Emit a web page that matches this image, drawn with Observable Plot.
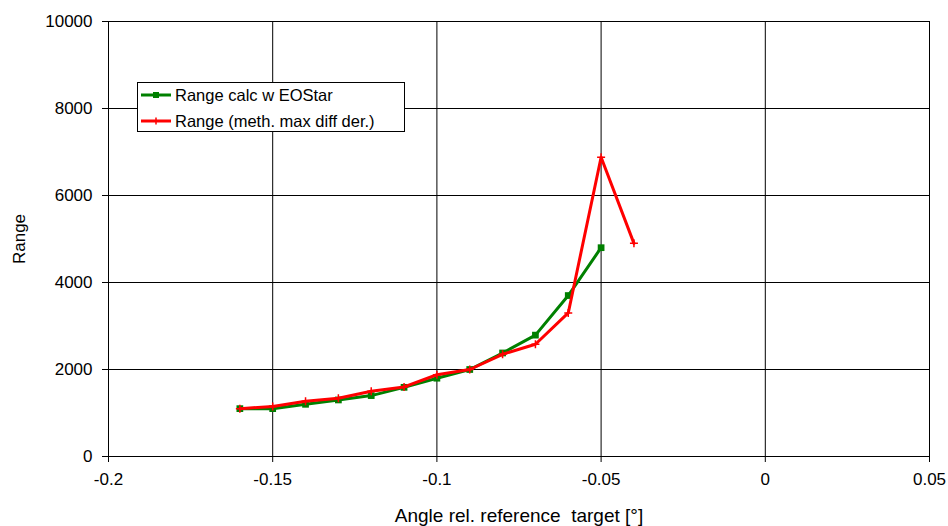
<!DOCTYPE html>
<html>
<head>
<meta charset="utf-8">
<script src="https://cdn.jsdelivr.net/npm/d3@7"></script>
<script src="https://cdn.jsdelivr.net/npm/@observablehq/plot@0.6"></script>
<style>
  html, body { margin: 0; padding: 0; background: #fff; }
  #wrap { position: relative; width: 948px; height: 526px; font-family: "Liberation Sans", Arial, sans-serif; }
  #legend { position: absolute; left: 137px; top: 82px; width: 268px; height: 50px; border: 1px solid #000; background: #fff; box-sizing: border-box; }
  .lrow { position: absolute; left: 3px; height: 20px; display: flex; align-items: center; font-size: 16.5px; color: #000; white-space: nowrap; }
  .lrow svg { margin-right: 4px; }
</style>
</head>
<body>
<div id="wrap"></div>
<script>
// Data
const angles = [-0.16, -0.15, -0.14, -0.13, -0.12, -0.11, -0.10, -0.09, -0.08, -0.07, -0.06, -0.05, -0.04];
const eostarRange = [1100, 1100, 1200, 1300, 1400, 1590, 1800, 2000, 2380, 2790, 3700, 4800, null];
const maxDiffRange = [1100, 1150, 1270, 1340, 1500, 1600, 1880, 2000, 2350, 2580, 3300, 6880, 4900];
const seriesNames = ["Range calc w EOStar", "Range (meth. max diff der.)"];
const seriesColors = ["#008000", "#ff0000"];
const xTicks = [-0.2, -0.15, -0.1, -0.05, 0, 0.05];
const yTicks = [0, 2000, 4000, 6000, 8000, 10000];
const xLabel = "Angle rel. reference  target [°]";
const yLabel = "Range";

const green = angles.map((a, i) => ({x: a, y: eostarRange[i]})).filter(d => d.y != null);
const red = angles.map((a, i) => ({x: a, y: maxDiffRange[i]})).filter(d => d.y != null);
const fmtX = d => String(+d.toFixed(2));

const chart = Plot.plot({
  width: 948,
  height: 526,
  marginTop: 21,
  marginBottom: 70,
  marginLeft: 108,
  marginRight: 19,
  style: {fontFamily: "Liberation Sans, Arial, sans-serif", fontSize: "17px", background: "#fff", color: "#000"},
  x: {domain: [-0.2, 0.05]},
  y: {domain: [0, 10000]},
  marks: [
    Plot.ruleX(xTicks, {stroke: "#000", strokeWidth: 1}),
    Plot.ruleY(yTicks, {stroke: "#000", strokeWidth: 1}),
    Plot.line(green, {x: "x", y: "y", stroke: seriesColors[0], strokeWidth: 3}),
    Plot.dot(green, {x: "x", y: "y", symbol: "square", r: 3.8, fill: seriesColors[0], stroke: "none"}),
    Plot.line(red, {x: "x", y: "y", stroke: seriesColors[1], strokeWidth: 3}),
    Plot.dot(red, {x: "x", y: "y", symbol: "plus", r: 2.7, stroke: seriesColors[1], strokeWidth: 1.5}),
    Plot.axisX({ticks: xTicks, tickFormat: fmtX, tickSize: 6, tickPadding: 10, fontSize: 17, label: null}),
    Plot.axisX({ticks: [], tickSize: 0, fontSize: 19, label: xLabel, labelAnchor: "center", labelArrow: "none", labelOffset: 65}),
    Plot.axisY({ticks: yTicks, tickFormat: d => String(d), tickSize: 6, tickPadding: 10, fontSize: 17, label: yLabel, labelAnchor: "center", labelArrow: "none", labelOffset: 96})
  ]
});
const wrap = document.getElementById("wrap");
wrap.appendChild(chart);

// Legend
const legend = document.createElement("div");
legend.id = "legend";
seriesNames.forEach((name, i) => {
  const row = document.createElement("div");
  row.className = "lrow";
  row.style.top = (i === 0 ? 2 : 28) + "px";
  const marker = i === 0
    ? `<rect x="12" y="7" width="6" height="6" fill="${seriesColors[i]}"/>`
    : `<line x1="15" x2="15" y1="6.5" y2="13.5" stroke="${seriesColors[i]}" stroke-width="1.5"/>`;
  row.innerHTML = `<svg width="30" height="20"><line x1="0" x2="30" y1="10" y2="10" stroke="${seriesColors[i]}" stroke-width="3"/>${marker}</svg><span>${name}</span>`;
  legend.appendChild(row);
});
wrap.appendChild(legend);
</script>
</body>
</html>
